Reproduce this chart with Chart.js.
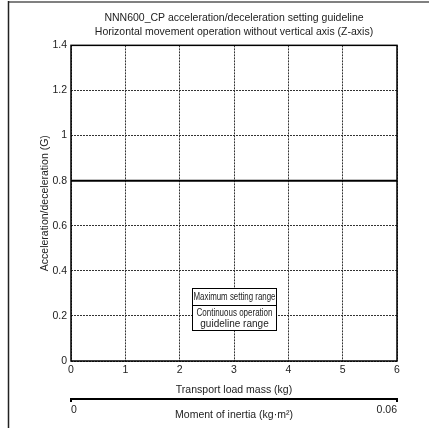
<!DOCTYPE html>
<html>
<head>
<meta charset="utf-8">
<script src="https://cdn.jsdelivr.net/npm/chart.js@4.4.1/dist/chart.umd.min.js"></script>
<style>
    html, body { margin: 0; padding: 0; background: #fff; }
    #wrap { width: 429px; height: 428px; position: relative; }
</style>
</head>
<body>
<div id="wrap"><canvas id="chart"></canvas></div>
<script>
// Chart data
const titleLines = [
    'NNN600_CP acceleration/deceleration setting guideline',
    'Horizontal movement operation without vertical axis (Z-axis)'
];
const massRange = [0, 6];        // Transport load mass (kg)
const accelRange = [0, 1.4];     // Acceleration/deceleration (G)
const inertiaRange = [0, 0.06];  // Moment of inertia (kg·m²)
const maxSettingMass = [0, 6];
const maxSettingAccel = [0.8, 0.8];
const legendLabels = [
    ['Maximum setting range'],
    ['Continuous operation', 'guideline range']
];

const FONT = "'Liberation Sans', Arial, sans-serif";

// Outer page frame (top + left edge of the figure)
const pageFrame = {
    id: 'pageFrame',
    beforeDraw(chart) {
        const ctx = chart.ctx;
        ctx.save();
        ctx.strokeStyle = '#808080';
        ctx.lineWidth = 2;
        ctx.beginPath();
        ctx.moveTo(8, 2);
        ctx.lineTo(429, 2);
        ctx.stroke();
        ctx.strokeStyle = '#222';
        ctx.lineWidth = 1.5;
        ctx.beginPath();
        ctx.moveTo(8.5, 1);
        ctx.lineTo(8.5, 428);
        ctx.stroke();
        ctx.restore();
    }
};

// Solid frame around the plot area
const plotFrame = {
    id: 'plotFrame',
    afterDatasetsDraw(chart) {
        const { ctx, chartArea: a } = chart;
        ctx.save();
        ctx.strokeStyle = '#000';
        ctx.lineWidth = 1.5;
        ctx.strokeRect(a.left, a.top, a.right - a.left, a.bottom - a.top);
        ctx.restore();
    }
};

// Boxed legend in the lower middle of the plot
const boxLegend = {
    id: 'boxLegend',
    afterDraw(chart) {
        const ctx = chart.ctx;
        const x = chart.scales.x;
        const y = chart.scales.y;
        const left = Math.round(x.getPixelForValue(2.22)) + 0.5;
        const right = Math.round(x.getPixelForValue(3.78)) + 0.5;
        const top = Math.round(y.getPixelForValue(0.322)) + 0.5;
        const mid = Math.round(y.getPixelForValue(0.25)) + 0.5;
        const bottom = Math.round(y.getPixelForValue(0.137)) + 0.5;
        const cx = (left + right) / 2;
        const boxW = right - left;
        ctx.save();
        ctx.fillStyle = '#fff';
        ctx.fillRect(left, top, boxW, bottom - top);
        ctx.strokeStyle = '#000';
        ctx.lineWidth = 1;
        ctx.strokeRect(left, top, boxW, bottom - top);
        ctx.beginPath();
        ctx.moveTo(left, mid);
        ctx.lineTo(right, mid);
        ctx.stroke();
        ctx.fillStyle = '#222';
        ctx.textAlign = 'center';
        ctx.textBaseline = 'middle';
        ctx.font = '10px ' + FONT;
        ctx.fillText(legendLabels[0][0], cx, (top + mid) / 2 + 0.5, boxW - 2);
        ctx.font = '10px ' + FONT;
        const lh = 11;
        const c2 = (mid + bottom) / 2;
        legendLabels[1].forEach((t, i) => {
            ctx.fillText(t, cx, c2 + (i - (legendLabels[1].length - 1) / 2) * lh + 0.5, boxW - 8);
        });
        ctx.restore();
    }
};

const gridStyle = {
    color: '#333',
    lineWidth: 1,
    drawTicks: false
};
const tickFmt = (v) => String(+Number(v).toFixed(3));

new Chart(document.getElementById('chart'), {
    type: 'line',
    data: {
        datasets: [{
            label: legendLabels[0][0],
            data: maxSettingMass.map((m, i) => ({ x: m, y: maxSettingAccel[i] })),
            borderColor: '#000',
            borderWidth: 2,
            pointRadius: 0,
            fill: false
        }]
    },
    options: {
        responsive: true,
        maintainAspectRatio: false,
        animation: false,
        layout: { padding: { left: 0, right: 32, top: 0, bottom: 0 } },
        plugins: {
            legend: { display: false },
            tooltip: { enabled: false },
            title: {
                display: true,
                text: titleLines,
                fullSize: false,
                color: '#222',
                font: { family: FONT, size: 10.5, weight: 'normal', lineHeight: 1.35 },
                padding: { top: 11, bottom: 6 }
            }
        },
        scales: {
            x: {
                type: 'linear',
                position: 'bottom',
                min: massRange[0],
                max: massRange[1],
                border: { display: false, dash: [2, 1] },
                grid: gridStyle,
                ticks: {
                    stepSize: 1,
                    color: '#222',
                    padding: 3,
                    maxRotation: 0,
                    font: { family: FONT, size: 10.5 },
                    callback: tickFmt
                },
                title: {
                    display: true,
                    text: 'Transport load mass (kg)',
                    color: '#222',
                    font: { family: FONT, size: 10.5 },
                    padding: { top: 0, bottom: 3 }
                },
                afterFit(scale) { scale.height = 38; }
            },
            x2: {
                type: 'linear',
                position: 'bottom',
                min: inertiaRange[0],
                max: inertiaRange[1],
                border: { display: true, color: '#000', width: 2 },
                grid: {
                    display: true,
                    drawOnChartArea: false,
                    drawTicks: true,
                    tickLength: 3,
                    color: '#000',
                    lineWidth: 2
                },
                ticks: {
                    stepSize: inertiaRange[1],
                    align: 'inner',
                    color: '#222',
                    padding: 2,
                    maxRotation: 0,
                    font: { family: FONT, size: 10.5 },
                    callback: tickFmt
                },
                title: {
                    display: true,
                    text: 'Moment of inertia (kg\u00B7m\u00B2)',
                    color: '#222',
                    font: { family: FONT, size: 10.5 },
                    padding: { top: 0, bottom: 7 }
                },
                afterFit(scale) { scale.height = 29; }
            },
            y: {
                type: 'linear',
                min: accelRange[0],
                max: accelRange[1],
                border: { display: false, dash: [2, 1] },
                grid: gridStyle,
                ticks: {
                    stepSize: 0.2,
                    color: '#222',
                    padding: 4,
                    font: { family: FONT, size: 10.5 },
                    callback: tickFmt
                },
                title: {
                    display: true,
                    text: 'Acceleration/deceleration (G)',
                    color: '#222',
                    font: { family: FONT, size: 10.5 },
                    padding: { top: 39, bottom: 0 }
                },
                afterFit(scale) { scale.width = 71; }
            }
        }
    },
    plugins: [pageFrame, plotFrame, boxLegend]
});
</script>
</body>
</html>
